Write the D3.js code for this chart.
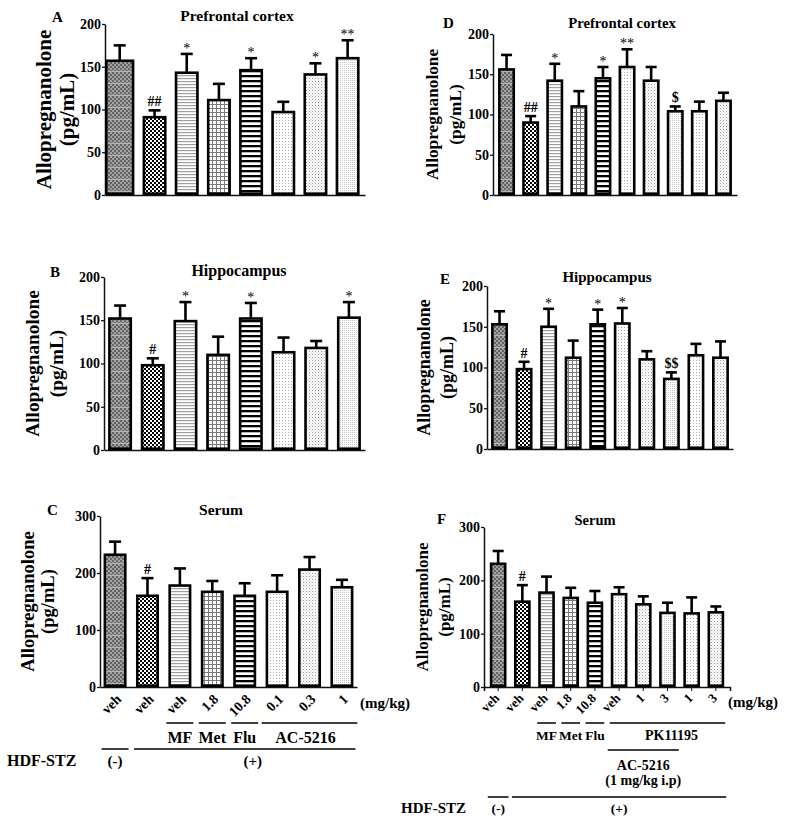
<!DOCTYPE html>
<html><head><meta charset="utf-8">
<script src="https://cdn.jsdelivr.net/npm/d3@7"></script>
<style>
body{margin:0;background:#fff;}
svg text{font-family:"Liberation Serif","Times New Roman",serif;font-weight:bold;}
</style></head><body>
<svg id="chart" width="787" height="821"></svg>
<script>
// ---------- data ----------
const groupsLeft  = ["veh","veh","veh","1.8","10.8","0.1","0.3","1"];
const groupsRight = ["veh","veh","veh","1.8","10.8","veh","1","3","1","3"];
const ticks200 = [0,50,100,150,200];
const ticks300 = [0,100,200,300];

const pfcA  = [157,91,143,111,146,97,141,160];
const pfcAErr = [18,8,22,19,14,12,13,21];
const pfcASig = ["","##","*","","*","","*","**"];

const hipB  = [152,98,149,110,152,113,118,153];
const hipBErr = [15,8,22,21,18,17,8,18];
const hipBSig = ["","#","*","","*","","","*"];

const serC  = [232,160,178,167,160,167,206,175];
const serCErr = [23,31,30,19,22,29,22,13];
const serCSig = ["","#","","","","","",""];

const pfcD  = [156,90,142,110,145,159,142,104,104,117];
const pfcDErr = [18,8,21,19,14,22,17,6,12,10];
const pfcDSig = ["","##","*","","*","**","","$","",""];

const hipE  = [153,98,150,112,153,154,110,86,115,112];
const hipEErr = [16,9,22,21,18,19,10,8,14,20];
const hipESig = ["","#","*","","*","*","","$$","",""];

const serF  = [231,160,177,167,158,174,155,139,138,140];
const serFErr = [24,31,30,19,22,13,15,19,30,11];
const serFSig = ["","#","","","","","","","",""];

const yTitle = ["Allopregnanolone","(pg/mL)"];

// ---------- setup ----------
const svg = d3.select("#chart");
const defs = svg.append("defs");
function pat(id,w,h,bg,rects){
  const p = defs.append("pattern").attr("id",id).attr("patternUnits","userSpaceOnUse")
    .attr("width",w).attr("height",h);
  p.append("rect").attr("width",w).attr("height",h).attr("fill",bg);
  rects.forEach(r=>p.append("rect").attr("x",r[0]).attr("y",r[1]).attr("width",r[2]).attr("height",r[3]).attr("fill",r[4]));
}
pat("p1",4,12,"#a2a2a2",[[0,0,2,2,"#636363"],[2,2,2,2,"#636363"],[0,4,2,2,"#636363"],[2,6,2,2,"#636363"],[0,8,2,2,"#6a6a6a"],[2,10,2,2,"#6a6a6a"],[0,11,4,1,"#b4b4b4"]]);
pat("p2",4,4,"#fff",[[0,0,2,2,"#000"],[2,2,2,2,"#000"]]);
pat("p3",3,3,"#fff",[[0,0,3,1.2,"#a0a0a0"]]);
pat("p4",4,4,"#fff",[[0,0,1,4,"#7a7a7a"],[0,0,4,1,"#7a7a7a"]]);
pat("p5",5,5,"#fff",[[0,0,5,2.3,"#000"]]);
pat("p6",3,3,"#fff",[[0,0,1,1,"#aaa"]]);
pat("p7",3,3,"#fff",[[0,0,1,1,"#999"],[1.5,1.5,1,1,"#bbb"]]);
pat("p8",2,2,"#fff",[[0,0,1,1,"#c4c4c4"]]);

const fillsLeft  = ["p1","p2","p3","p4","p5","p6","p7","p8"];
const fillsRight = ["p1","p2","p3","p4","p5","p6","p7","p8","p6","p7"];

const panels = [
 {letter:"A",title:"Prefrontal cortex",values:pfcA,err:pfcAErr,sig:pfcASig,ymax:200,ticks:ticks200,fills:fillsLeft,
  x0:105,x1:365,y0:195,y1:24,pi:0.254,po:0.167,wideFirst:true,tx:237,ty:21,ts:15.5,lx:52,ly:22,ls:21,l1x:44,l2x:67,cap:6},
 {letter:"B",title:"Hippocampus",values:hipB,err:hipBErr,sig:hipBSig,ymax:200,ticks:ticks200,fills:fillsLeft,
  x0:104,x1:365,y0:450,y1:277,pi:0.266,po:0.125,tx:239,ty:276,ts:16,lx:50,ly:277,ls:19.3,l1x:32,l2x:56,cap:6},
 {letter:"C",title:"Serum",values:serC,err:serCErr,sig:serCSig,ymax:300,ticks:ticks300,fills:fillsLeft,groups:groupsLeft,
  x0:100,x1:357,y0:687,y1:516,pi:0.29,po:0.11,tx:221,ty:515,ts:15.5,lx:47,ly:515,ls:18.5,l1x:28,l2x:48,cap:6,
  lblDx:7,lblDy:13,lblSize:14,xTicks:0,unitX:360,unitY:708},
 {letter:"D",title:"Prefrontal cortex",values:pfcD,err:pfcDErr,sig:pfcDSig,ymax:200,ticks:ticks200,fills:fillsRight,
  x0:493,x1:737,y0:195,y1:34,pi:0.295,po:0.21,tx:622,ty:28,ts:14.7,lx:443,ly:28,ls:17.3,l1x:432,l2x:455,cap:5.5},
 {letter:"E",title:"Hippocampus",values:hipE,err:hipEErr,sig:hipESig,ymax:200,ticks:ticks200,fills:fillsRight,
  x0:487,x1:733,y0:449,y1:286,pi:0.31,po:0.165,tx:607,ty:282,ts:15,lx:440,ly:284,ls:18,l1x:424,l2x:447,cap:5.5},
 {letter:"F",title:"Serum",values:serF,err:serFErr,sig:serFSig,ymax:300,ticks:ticks300,fills:fillsRight,groups:groupsRight,
  x0:484,x1:730,y0:687,y1:527,pi:0.31,po:0.24,tx:595,ty:525,ts:14.5,lx:437,ly:524,ls:17,l1x:422,l2x:444,cap:5.5,
  lblDx:2,lblDy:12,lblSize:13,xTicks:4,unitX:728,unitY:707}
];

const SW = 2.6;
panels.forEach(p=>{
  const g = svg.append("g");
  const n = p.values.length;
  const x = d3.scaleBand().domain(d3.range(n)).range([p.x0,p.x1]).paddingInner(p.pi).paddingOuter(p.po);
  const y = d3.scaleLinear().domain([0,p.ymax]).range([p.y0,p.y1]);
  p.x = x; p.y = y;
  const bw = x.bandwidth();
  const left = i => (i===0 && p.wideFirst) ? p.x0 : x(i);
  const wid  = i => (i===0 && p.wideFirst) ? x(0)+bw-p.x0 : bw;
  const cx = i => left(i) + wid(i)/2;

  // x axis
  const xa = d3.axisBottom(x).tickSizeOuter(0).tickSize(p.xTicks||0).tickFormat("");
  const xg = g.append("g").attr("transform",`translate(0,${p.y0})`).call(xa);
  xg.select(".domain").attr("stroke","#111").attr("stroke-width",1.5);
  xg.selectAll(".tick line").attr("stroke","#111").attr("stroke-width",1);

  // y axis
  const ya = d3.axisLeft(y).tickValues(p.ticks).tickSize(3).tickPadding(1).tickSizeOuter(0);
  const yg = g.append("g").attr("transform",`translate(${p.x0},0)`).call(ya);
  yg.select(".domain").attr("stroke","#111").attr("stroke-width",1.5);
  yg.selectAll(".tick line").attr("stroke","#111").attr("stroke-width",1.3);
  yg.selectAll(".tick text").attr("font-size",14).attr("font-family","Liberation Serif").attr("font-weight","bold").attr("fill","#000");

  // bars
  g.selectAll("rect.bar").data(p.values).join("rect").attr("class","bar")
    .attr("x",(d,i)=>left(i)+SW/2).attr("width",(d,i)=>wid(i)-SW)
    .attr("y",d=>y(d)).attr("height",d=>y(0)-y(d)-SW/2)
    .attr("fill",(d,i)=>`url(#${p.fills[i]})`).attr("stroke","#000").attr("stroke-width",SW);

  // error bars
  g.selectAll("line.ev").data(p.values).join("line").attr("class","ev")
    .attr("x1",(d,i)=>cx(i)).attr("x2",(d,i)=>cx(i))
    .attr("y1",d=>y(d)).attr("y2",(d,i)=>y(d+p.err[i]))
    .attr("stroke","#000").attr("stroke-width",SW);
  g.selectAll("line.ec").data(p.values).join("line").attr("class","ec")
    .attr("x1",(d,i)=>cx(i)-p.cap).attr("x2",(d,i)=>cx(i)+p.cap)
    .attr("y1",(d,i)=>y(d+p.err[i])).attr("y2",(d,i)=>y(d+p.err[i]))
    .attr("stroke","#000").attr("stroke-width",SW);

  // significance
  g.selectAll("text.sig").data(p.sig).join("text").attr("class","sig")
    .attr("x",(d,i)=>cx(i)).attr("y",(d,i)=>y(p.values[i]+p.err[i]) - (d.startsWith("*")?1:4))
    .attr("text-anchor","middle").attr("font-size",14).attr("fill","#000")
    .style("font-weight",d=>d.startsWith("*")?"normal":"bold").text(d=>d);

  // titles
  g.append("text").attr("x",p.tx).attr("y",p.ty).attr("text-anchor","middle").attr("font-size",p.ts).text(p.title);
  g.append("text").attr("x",p.lx).attr("y",p.ly).attr("font-size",15).text(p.letter);
  const cy = (p.y0+p.y1)/2;
  [p.l1x,p.l2x].forEach((lx,k)=>{
    g.append("text").attr("transform",`translate(${lx},${cy}) rotate(-90)`)
      .attr("text-anchor","middle").attr("dominant-baseline","central")
      .attr("font-size",p.ls).text(yTitle[k]);
  });

  // category labels
  if(p.groups){
    g.selectAll("text.cat").data(p.groups).join("text").attr("class","cat")
      .attr("transform",(d,i)=>`translate(${cx(i)+p.lblDx},${p.y0+p.lblDy}) rotate(-45)`)
      .attr("text-anchor","end").attr("font-size",p.lblSize).text(d=>d);
    g.append("text").attr("x",p.unitX).attr("y",p.unitY).attr("font-size",15).text("(mg/kg)");
  }
});

// ---------- bracket annotations ----------
function bracket(p,from,to,yLine,pad,labels,labelY,fs,shift){
  const x = p.x, bw = x.bandwidth();
  const a = x(from)-pad, b = x(to)+bw+pad;
  svg.append("line").attr("x1",a).attr("x2",b).attr("y1",yLine).attr("y2",yLine)
    .attr("stroke","#000").attr("stroke-width",1.5);
  labels.forEach((t,k)=>{
    svg.append("text").attr("x",(a+b)/2+(shift||0)).attr("y",labelY[k]).attr("text-anchor","middle")
      .attr("font-size",fs).text(t);
  });
}
const pC = panels[2], pF = panels[5];
// Panel C
bracket(pC,2,2,723,2,["MF"],[743],16);
bracket(pC,3,3,723,2,["Met"],[743],16);
bracket(pC,4,4,723,2,["Flu"],[743],16);
bracket(pC,5,7,723,4,["AC-5216"],[743],16,-4);
bracket(pC,0,0,749,2,["(-)"],[766],15);
bracket(pC,1,7,749,2,["(+)"],[766],15,8);
svg.append("text").attr("x",7).attr("y",766).attr("font-size",16).text("HDF-STZ");
// Panel F
bracket(pF,2,2,723,1,["MF"],[740],13.5);
bracket(pF,3,3,723,1,["Met"],[740],13.5);
bracket(pF,4,4,723,1,["Flu"],[740],13.5);
bracket(pF,5,9,723,1,["PK11195"],[740],14,4);
bracket(pF,5,7,750,3,["AC-5216","(1 mg/kg i.p)"],[770,785],14);
bracket(pF,0,0,797,2,["(-)"],[813],13.5);
bracket(pF,1,9,797,2,["(+)"],[813],13.5);
svg.append("text").attr("x",401).attr("y",813).attr("font-size",15).text("HDF-STZ");
</script>
</body></html>
